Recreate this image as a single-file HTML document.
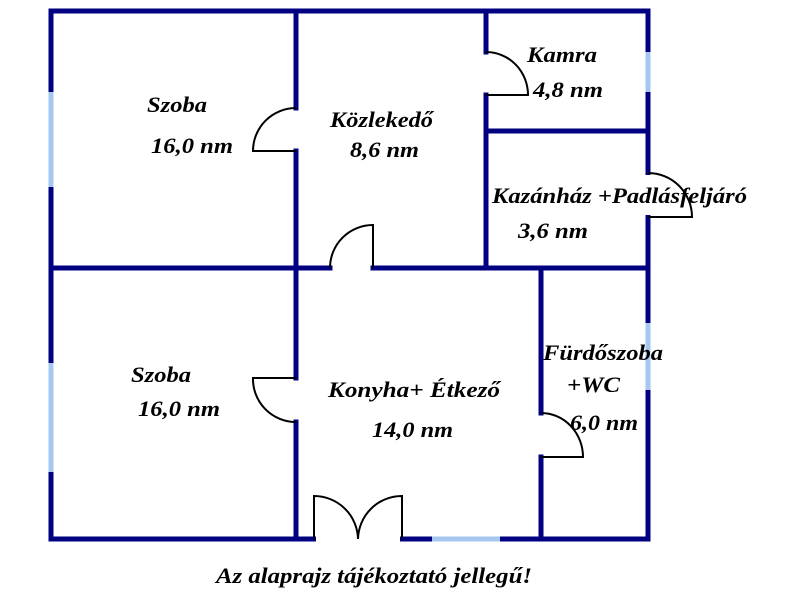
<!DOCTYPE html>
<html><head><meta charset="utf-8"><style>
html,body{margin:0;padding:0;background:#fff;width:800px;height:600px;overflow:hidden}
svg text{font-family:"Liberation Serif",serif;font-weight:bold;font-style:italic;font-size:22px;fill:#000}
</style></head><body>
<svg width="800" height="600" viewBox="0 0 800 600" xmlns="http://www.w3.org/2000/svg">
<g stroke="#000080" stroke-width="5" fill="none" stroke-linecap="square">
<line x1="51" y1="11" x2="648" y2="11"/>
<line x1="51" y1="11" x2="51" y2="539"/>
<line x1="648" y1="11" x2="648" y2="539"/>
<line x1="51" y1="539" x2="648" y2="539"/>
<line x1="296" y1="11" x2="296" y2="108"/>
<line x1="296" y1="151" x2="296" y2="378"/>
<line x1="296" y1="422" x2="296" y2="539"/>
<line x1="51" y1="268" x2="330" y2="268"/>
<line x1="373" y1="268" x2="648" y2="268"/>
<line x1="486" y1="11" x2="486" y2="52"/>
<line x1="486" y1="95" x2="486" y2="268"/>
<line x1="486" y1="131" x2="648" y2="131"/>
<line x1="541" y1="268" x2="541" y2="413"/>
<line x1="541" y1="457" x2="541" y2="539"/>
</g>
<g stroke="#fff" stroke-width="7">
<line x1="648" y1="175" x2="648" y2="215"/>
<line x1="316" y1="539" x2="400" y2="539"/>
</g>
<g stroke="#a6c8f0" stroke-width="5">
<line x1="51" y1="92" x2="51" y2="187"/>
<line x1="51" y1="363" x2="51" y2="472"/>
<line x1="648" y1="52" x2="648" y2="92"/>
<line x1="648" y1="323" x2="648" y2="390"/>
<line x1="432" y1="539" x2="500" y2="539"/>
</g>
<g stroke="#000" stroke-width="2" fill="none">
<path d="M296 108 A43 43 0 0 0 253 151 L296 151"/>
<path d="M296 378 L253 378 A43 43 0 0 0 296 422"/>
<path d="M373 268 L373 225 A43 43 0 0 0 330 268"/>
<path d="M486 52 A42 43 0 0 1 528 95 L486 95"/>
<path d="M648 173 A44 44 0 0 1 692 217 L648 217"/>
<path d="M541 413 A42 44 0 0 1 583 457 L541 457"/>
<path d="M314 539 L314 496 A44 44 0 0 1 358 539"/>
<path d="M402 539 L402 496 A44 44 0 0 0 358 539"/>
</g>
<g lengthAdjust="spacingAndGlyphs">
<text x="147" y="112" textLength="60" lengthAdjust="spacingAndGlyphs">Szoba</text>
<text x="151" y="153" textLength="82" lengthAdjust="spacingAndGlyphs">16,0 nm</text>
<text x="330" y="127" textLength="103" lengthAdjust="spacingAndGlyphs">Közlekedő</text>
<text x="350" y="157" textLength="69" lengthAdjust="spacingAndGlyphs">8,6 nm</text>
<text x="527" y="62" textLength="70" lengthAdjust="spacingAndGlyphs">Kamra</text>
<text x="533" y="97" textLength="70" lengthAdjust="spacingAndGlyphs">4,8 nm</text>
<text x="492" y="203" textLength="255" lengthAdjust="spacingAndGlyphs">Kazánház +Padlásfeljáró</text>
<text x="518" y="238" textLength="70" lengthAdjust="spacingAndGlyphs">3,6 nm</text>
<text x="131" y="382" textLength="60" lengthAdjust="spacingAndGlyphs">Szoba</text>
<text x="138" y="416" textLength="82" lengthAdjust="spacingAndGlyphs">16,0 nm</text>
<text x="328" y="397" textLength="172" lengthAdjust="spacingAndGlyphs">Konyha+ Étkező</text>
<text x="372" y="437" textLength="81" lengthAdjust="spacingAndGlyphs">14,0 nm</text>
<text x="543" y="360" textLength="120" lengthAdjust="spacingAndGlyphs">Fürdőszoba</text>
<text x="567" y="392" textLength="53" lengthAdjust="spacingAndGlyphs">+WC</text>
<text x="570" y="430" textLength="68" lengthAdjust="spacingAndGlyphs">6,0 nm</text>
<text x="216" y="583" textLength="316" lengthAdjust="spacingAndGlyphs">Az alaprajz tájékoztató jellegű!</text>
</g>
</svg>
</body></html>
